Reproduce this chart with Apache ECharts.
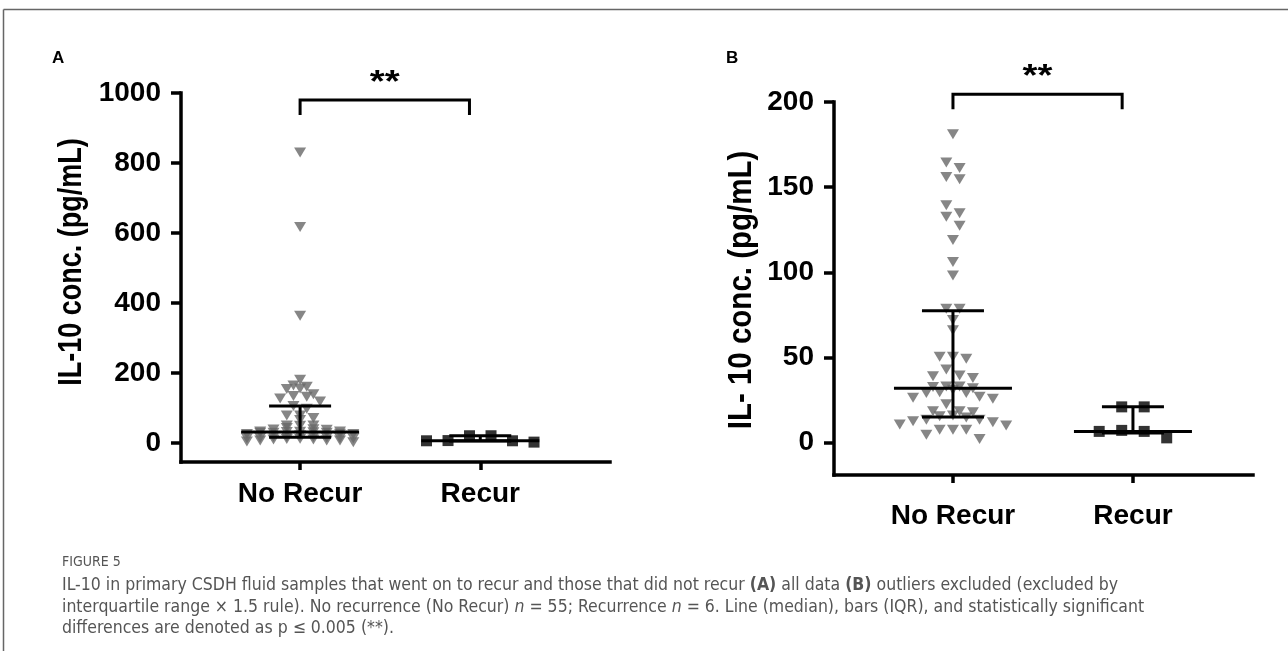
<!DOCTYPE html>
<html>
<head>
<meta charset="utf-8">
<title>IL-10 in primary CSDH fluid</title>
<script src="https://cdn.jsdelivr.net/npm/echarts@6/dist/echarts.min.js"></script>
<style>
  html, body { margin: 0; padding: 0; background: #fff; }
  #chart { width: 1288px; height: 651px; }
</style>
</head>
<body>
<div id="chart"></div>
<script>
// groups on the x axis
var groups = ['No Recur', 'Recur'];

// IL-10 conc. (pg/mL)
var noRecurB = [2.2, 4.7, 7.6, 7.6, 7.6, 10.1, 10.6, 12, 12.5, 13.5, 13.5, 14.8, 15.5, 15.9,
  17.8, 18.4, 18.4, 22.5, 25.7, 26.3, 26.9, 29.2, 29.2, 29.6, 31, 32, 32.7, 33, 33,
  38, 39, 39.4, 42.9, 49.2, 50.4, 50.4, 66, 72, 78.6, 78.6, 98.2, 106, 119, 127.3,
  132.7, 134.7, 139.4, 154.7, 156, 161.2, 164.5, 181];
// the three values dropped in panel B (IQR x 1.5 rule)
var noRecurOutliers = [364, 617, 830];
var recurVals = [2.8, 6.6, 6.6, 7.2, 21, 21];

// median and IQR per group
var medianA = [32, 6.6];
var q1A = [17, 5.7];
var q3A = [106, 21];
var medianB = [32, 6.6];
var q1B = [15, 5.7];
var q3B = [77.5, 21];

var yTicksA = [0, 200, 400, 600, 800, 1000];
var yTicksB = [0, 50, 100, 150, 200];

var FONT = "'Liberation Sans', Arial, sans-serif";

var gridA = { left: 181, top: 93, width: 429, height: 369 };
var gridB = { left: 834, top: 102, width: 419, height: 373 };
var xRangeA = [0.339, 2.72], yRangeA = [-54, 1000];
var xRangeB = [0.339, 2.667], yRangeB = [-19, 200];

// spread points of similar value side by side, like a prism scatter dot plot
function swarm(vals, pxPerY, rowPx, maxRow) {
  var sorted = vals.slice().sort(function (a, b) { return a - b; });
  var rows = [], cur = [];
  sorted.forEach(function (v) {
    if (cur.length && ((v - cur[0]) * pxPerY >= rowPx || cur.length >= maxRow)) {
      rows.push(cur);
      cur = [];
    }
    cur.push(v);
  });
  if (cur.length) rows.push(cur);
  var out = [];
  rows.forEach(function (row) {
    var n = row.length;
    var slots = [];
    for (var i = 0; i < n; i++) slots.push(i - (n - 1) / 2);
    slots.sort(function (a, b) { return Math.abs(a) - Math.abs(b) || a - b; });
    row.slice().reverse().forEach(function (v, i) { out.push([slots[i], v]); });
  });
  return out;
}

function dots(vals, groupIdx, grid, xr, yr, slotPx, rowPx, maxRow) {
  var pxX = grid.width / (xr[1] - xr[0]);
  var pxY = grid.height / (yr[1] - yr[0]);
  return swarm(vals, pxY, rowPx, maxRow).map(function (p) {
    return [groupIdx + 1 + p[0] * slotPx / pxX, p[1]];
  });
}

function statsSeries(ai, med, q1, q3) {
  return {
    type: 'custom', xAxisIndex: ai, yAxisIndex: ai, z: 4, clip: false, silent: true,
    data: groups.map(function (g, i) { return [i + 1, q1[i], med[i], q3[i]]; }),
    renderItem: function (params, api) {
      var x = api.value(0);
      var m = api.coord([x, api.value(2)]);
      var lo = api.coord([x, api.value(1)]);
      var hi = api.coord([x, api.value(3)]);
      var st = { stroke: '#000', lineWidth: 3 };
      return {
        type: 'group',
        children: [
          { type: 'line', shape: { x1: lo[0], y1: lo[1], x2: hi[0], y2: hi[1] }, style: st },
          { type: 'line', shape: { x1: lo[0] - 31, y1: lo[1], x2: lo[0] + 31, y2: lo[1] }, style: st },
          { type: 'line', shape: { x1: hi[0] - 31, y1: hi[1], x2: hi[0] + 31, y2: hi[1] }, style: st },
          { type: 'line', shape: { x1: m[0] - 59, y1: m[1], x2: m[0] + 59, y2: m[1] }, style: st }
        ]
      };
    }
  };
}

function bracketSeries(ai, level) {
  return {
    type: 'custom', xAxisIndex: ai, yAxisIndex: ai, z: 4, clip: false, silent: true,
    data: [[1, 1.94, level]],
    renderItem: function (params, api) {
      var a = api.coord([api.value(0), api.value(2)]);
      var b = api.coord([api.value(1), api.value(2)]);
      return {
        type: 'group',
        children: [
          {
            type: 'polyline',
            shape: { points: [[a[0], a[1] + 15], a, b, [b[0], b[1] + 15]] },
            style: { stroke: '#000', lineWidth: 3, fill: null }
          },
          {
            type: 'text', x: (a[0] + b[0]) / 2, y: a[1] - 1, scaleX: 1.2,
            style: { text: '**', font: 'bold 32px ' + FONT, fill: '#000', align: 'center', verticalAlign: 'bottom' }
          }
        ]
      };
    }
  };
}

function xAxisOf(gi, xr, margin) {
  return {
    gridIndex: gi, type: 'value', min: xr[0], max: xr[1],
    splitLine: { show: false },
    axisLine: { onZero: false, lineStyle: { color: '#000', width: 3.5, cap: 'square' } },
    axisTick: { customValues: [1, 2], length: 8, lineStyle: { color: '#000', width: 3.5 } },
    axisLabel: {
      customValues: [1, 2], margin: margin,
      formatter: function (v) { return groups[Math.round(v) - 1]; },
      color: '#000', fontSize: 28, fontWeight: 'bold', fontFamily: FONT
    }
  };
}

function yAxisOf(gi, yr, ticks) {
  return {
    gridIndex: gi, type: 'value', min: yr[0], max: yr[1],
    splitLine: { show: false },
    axisLine: { onZero: false, lineStyle: { color: '#000', width: 3.5, cap: 'square' } },
    axisTick: { customValues: ticks, length: 10, lineStyle: { color: '#000', width: 3.5 } },
    axisLabel: {
      customValues: ticks, margin: 20,
      formatter: function (v) { return String(v); },
      color: '#000', fontSize: 28, fontWeight: 'bold', fontFamily: FONT
    }
  };
}

// axis titles: the source figure is slightly stretched sideways, so widen the glyphs a little
function yTitle(text, cx, cy, size, stretch) {
  return {
    type: 'text', x: cx, y: cy, rotation: Math.PI / 2, scaleY: stretch,
    style: { text: text, font: 'bold ' + size + 'px ' + FONT, fill: '#000', align: 'center', verticalAlign: 'middle' }
  };
}

var triStyle = { symbol: 'triangle', symbolRotate: 180, symbolSize: [12, 10], itemStyle: { color: '#686868' } };
var sqStyle = { symbol: 'rect', symbolSize: 11, itemStyle: { color: '#000' } };

var captionText =
  'IL-10 in primary CSDH fluid samples that went on to recur and those that did not recur {b|(A)} all data {b|(B)} outliers excluded (excluded by\n' +
  'interquartile range \u00d7 1.5 rule). No recurrence (No Recur) {i|n} = 55; Recurrence {i|n} = 6. Line (median), bars (IQR), and statistically significant\n' +
  'differences are denoted as p \u2264 0.005 (**).';

var capFont = "'Liberation Sans Narrow', 'DejaVu Sans Condensed', 'Liberation Sans', sans-serif";
var capSize = 17.5;

var myChart = echarts.init(document.getElementById('chart'));
var option = {
  backgroundColor: '#fff',
  animation: false,
  grid: [gridA, gridB],
  xAxis: [xAxisOf(0, xRangeA, 18), xAxisOf(1, xRangeB, 27)],
  yAxis: [yAxisOf(0, yRangeA, yTicksA), yAxisOf(1, yRangeB, yTicksB)],
  graphic: [
    { type: 'line', shape: { x1: 3.5, y1: 9.5, x2: 1288, y2: 9.5 }, style: { stroke: '#666', lineWidth: 1.5 } },
    { type: 'line', shape: { x1: 3.5, y1: 9.5, x2: 3.5, y2: 651 }, style: { stroke: '#666', lineWidth: 1.5 } },
    { type: 'text', left: 52, top: 50, style: { text: 'A', font: 'bold 17px ' + FONT, fill: '#000' } },
    { type: 'text', left: 726, top: 50, style: { text: 'B', font: 'bold 17px ' + FONT, fill: '#000' } },
    yTitle('IL-10 conc. (pg/mL)', 72, 262, 27, 1.2),
    yTitle('IL- 10 conc. (pg/mL)', 742, 290, 29.5, 1.1),
    { type: 'text', left: 62, top: 555, style: { text: 'FIGURE 5', font: '14px ' + capFont, fill: '#555' } },
    {
      type: 'text', left: 62, top: 575,
      style: {
        text: captionText, font: capSize + 'px ' + capFont, fill: '#555', lineHeight: 21.5,
        rich: {
          b: { fontWeight: 'bold', fontSize: capSize, fontFamily: capFont, fill: '#555', lineHeight: 21.5 },
          i: { fontStyle: 'italic', fontSize: capSize, fontFamily: capFont, fill: '#555', lineHeight: 21.5 }
        }
      }
    }
  ],
  series: [
    Object.assign({ type: 'scatter', xAxisIndex: 0, yAxisIndex: 0, z: 2,
      data: dots(noRecurB.concat(noRecurOutliers), 0, gridA, xRangeA, yRangeA, 13.3, 6, 9) }, triStyle),
    Object.assign({ type: 'scatter', xAxisIndex: 0, yAxisIndex: 0, z: 6,
      data: dots(recurVals, 1, gridA, xRangeA, yRangeA, 21.5, 10, 6) }, sqStyle),
    statsSeries(0, medianA, q1A, q3A),
    bracketSeries(0, 980),
    Object.assign({ type: 'scatter', xAxisIndex: 1, yAxisIndex: 1, z: 2,
      data: dots(noRecurB, 0, gridB, xRangeB, yRangeB, 13.3, 10, 9) }, triStyle),
    Object.assign({ type: 'scatter', xAxisIndex: 1, yAxisIndex: 1, z: 6,
      data: dots(recurVals, 1, gridB, xRangeB, yRangeB, 22.5, 10, 6) }, sqStyle),
    statsSeries(1, medianB, q1B, q3B),
    bracketSeries(1, 204.5)
  ]
};
myChart.setOption(option);
</script>
</body>
</html>
